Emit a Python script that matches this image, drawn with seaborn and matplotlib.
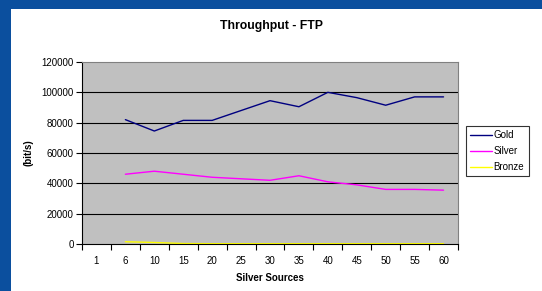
import numpy as np
import pandas as pd
import matplotlib
matplotlib.use("Agg")
import matplotlib.pyplot as plt
import seaborn as sns

# data
sources = ["1", "6", "10", "15", "20", "25", "30", "35", "40", "45", "50", "55", "60"]
gold = [np.nan, 82000, 74500, 81500, 81500, 88000, 94500, 90500, 100000, 96500, 91500, 97000, 97000]
silver = [np.nan, 46000, 48000, 46000, 44000, 43000, 42000, 45000, 41000, 39000, 36000, 36000, 35500]
bronze = [np.nan, 1500, 1000, 300, 200, 200, 200, 200, 200, 200, 200, 200, 200]
yticks = [0, 20000, 40000, 60000, 80000, 100000, 120000]

pos = np.arange(len(sources))
df = pd.concat([
    pd.DataFrame({"pos": pos, "value": gold, "series": "Gold"}),
    pd.DataFrame({"pos": pos, "value": silver, "series": "Silver"}),
    pd.DataFrame({"pos": pos, "value": bronze, "series": "Bronze"}),
]).dropna()

sns.set_style("ticks", {"text.color": "black", "axes.labelcolor": "black",
                        "xtick.color": "black", "ytick.color": "black"})
plt.rcParams["font.family"] = ["Liberation Sans", "DejaVu Sans"]

fig = plt.figure(figsize=(5.42, 2.91), dpi=100)
fig.patch.set_facecolor("#0B4F9E")

# white slide panel behind the chart
bg = fig.add_axes([11 / 542, 0, 1, 1 - 9 / 291])
bg.set_facecolor("white")
bg.set_xticks([])
bg.set_yticks([])
for s in bg.spines.values():
    s.set_visible(False)
bg.set_zorder(0)

ax = fig.add_axes([82 / 542, 1 - 244 / 291, 376 / 542, 182 / 291])
ax.set_zorder(1)
ax.set_facecolor("#C0C0C0")

palette = {"Gold": "#000080", "Silver": "#FF00FF", "Bronze": "#FFFF00"}
sns.lineplot(data=df, x="pos", y="value", hue="series", palette=palette,
             linewidth=1.0, ax=ax, legend=True)

ax.set_xlim(-0.5, len(sources) - 0.5)
ax.set_ylim(0, 120000)
ax.set_yticks(yticks)
ax.set_yticklabels([str(v) for v in yticks], fontsize=7)
ax.set_xticks(pos)
ax.set_xticklabels(sources, fontsize=7)
ax.set_xticks(np.arange(len(sources) + 1) - 0.5, minor=True)
ax.tick_params(axis="x", which="major", length=0, pad=9)
ax.tick_params(axis="x", which="minor", length=4, width=0.8, direction="out",
               color="black", bottom=True)
ax.tick_params(axis="y", which="major", length=4, width=0.8, direction="out",
               color="black", pad=2, left=True)

for y in yticks[1:-1]:
    ax.axhline(y, color="black", linewidth=0.8, zorder=1)

for s in ["top", "right"]:
    ax.spines[s].set_visible(True)
    ax.spines[s].set_color("#808080")
    ax.spines[s].set_linewidth(0.8)
for s in ["left", "bottom"]:
    ax.spines[s].set_color("black")
    ax.spines[s].set_linewidth(0.8)

ax.set_xlabel("Silver Sources", fontsize=7, fontweight="bold", labelpad=5)
ax.set_ylabel("(bit/s)", fontsize=7, fontweight="bold", labelpad=6)
fig.text(0.5, 1 - 26 / 291, "Throughput - FTP", ha="center", va="center",
         fontsize=8.8, fontweight="bold", color="black", zorder=3)

leg = ax.legend(loc="upper left", bbox_to_anchor=(466 / 542, 1 - 126 / 291),
                bbox_transform=fig.transFigure, fontsize=7, frameon=True,
                fancybox=False, edgecolor="black", handlelength=2.2,
                handletextpad=0.2, borderpad=0.45, labelspacing=0.6,
                borderaxespad=0)
leg.get_frame().set_linewidth(0.8)

fig.savefig("out.png", dpi=100, facecolor=fig.get_facecolor())
